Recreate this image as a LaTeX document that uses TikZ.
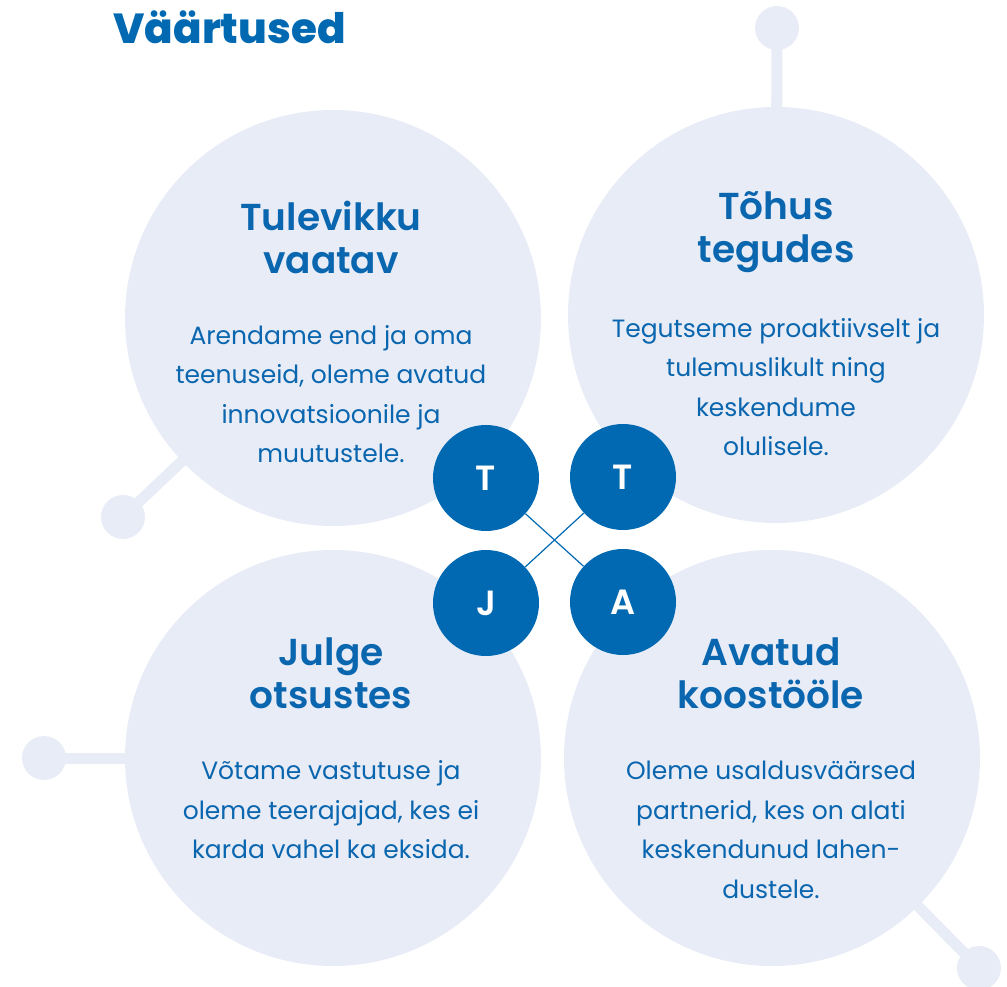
\documentclass[tikz,border=0pt]{standalone}
\usepackage{fontspec}
\setmainfont{Poppins}
\newfontfamily\headfont{Poppins SemiBold}
\newfontfamily\titlefont{Poppins ExtraBold}
\definecolor{dblue}{HTML}{0069B2}
\definecolor{tblue}{HTML}{0A66AE}
\definecolor{light}{HTML}{E8ECF7}
\begin{document}
\begin{tikzpicture}[x=1pt,y=-1pt,
  big/.style={circle,fill=light,minimum size=416pt,inner sep=0pt},
  knob/.style={circle,fill=light,minimum size=44pt,inner sep=0pt},
  stem/.style={draw=light,line width=11pt},
  letter/.style={circle,fill=dblue,minimum size=106pt,inner sep=0pt,text=white,font=\fontsize{35}{38}\selectfont\headfont},
  head/.style={text=tblue,align=center,font=\fontsize{37.5}{43}\selectfont\headfont},
  body/.style={text=tblue,align=center,font=\fontsize{25}{39.5}\selectfont},
  link/.style={draw=dblue,line width=1.2pt}]
\useasboundingbox (0,0) rectangle (1007,987);
% knobs and stems
\node[knob] (k1) at (777,28) {};
\node[knob] (k2) at (123,517) {};
\node[knob] (k3) at (44,758) {};
\node[knob] (k4) at (979,968) {};
\coordinate (c1) at (776,315);
\coordinate (c2) at (333,318);
\coordinate (c3) at (333,758);
\coordinate (c4) at (772,758);
\draw[stem] (k1.center) -- (c1);
\draw[stem] (k2.center) -- (c2);
\draw[stem] (k3.center) -- (c3);
\draw[stem] (k4.center) -- (c4);
% big circles
\node[big] (b1) at (c2) {};
\node[big] (b2) at (c1) {};
\node[big] (b3) at (c3) {};
\node[big] (b4) at (c4) {};
% title
\node[anchor=west,text=dblue,font=\fontsize{42}{50}\selectfont\titlefont] (title) at (110,27) {Väärtused};
% headings
\node[head] (h1) at (331,237) {Tulevikku\\vaatav};
\node[head] (h2) at (776,232) {Tõhus\\tegudes};
\node[head] (h3) at (331,673) {Julge\\otsustes};
\node[head] (h4) at (771,673) {Avatud\\koostööle};
% body
\node[body] (t1) at (331,394) {Arendame end ja oma\\teenuseid, oleme avatud\\innovatsioonile ja\\muutustele.};
\node[body] (t2) at (776,387) {Tegutseme proaktiivselt ja\\tulemuslikult ning\\keskendume\\olulisele.};
\node[body] (t3) at (331,810) {Võtame vastutuse ja\\oleme teerajajad, kes ei\\karda vahel ka eksida.};
\node[body] (t4) at (771,830) {Oleme usaldusväärsed\\partnerid, kes on alati\\keskendunud lahen-\\dustele.};
% letters
\node[letter] (L1) at (486,478) {T};
\node[letter] (L2) at (623,477) {T};
\node[letter] (L3) at (486,603) {J};
\node[letter] (L4) at (623,602) {A};
\draw[link] (L1) -- (L4);
\draw[link] (L2) -- (L3);
\end{tikzpicture}
\end{document}
